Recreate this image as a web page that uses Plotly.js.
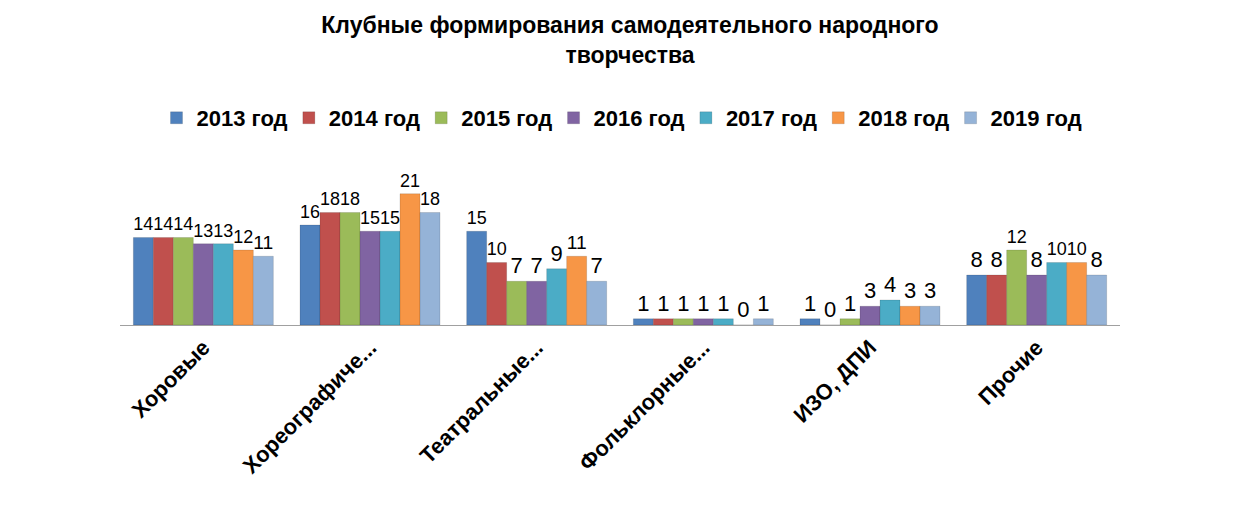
<!DOCTYPE html>
<html>
<head>
<meta charset="utf-8">
<script src="https://cdn.plot.ly/plotly-3.0.1.min.js"></script>
<style>body{margin:0;background:#fff}#chart{width:1260px;height:510px}</style>
</head>
<body>
<div id="chart"></div>
<script>
/* ── Data ──────────────────────────────────────────── */
const CATEGORIES = ['Хоровые', 'Хореографиче...', 'Театральные...', 'Фольклорные...', 'ИЗО, ДПИ', 'Прочие'];
const YEARS  = ['2013 год', '2014 год', '2015 год', '2016 год', '2017 год', '2018 год', '2019 год'];
const COLORS = ['#4F81BD', '#C0504D', '#9BBB59', '#8064A2', '#4BACC6', '#F79646', '#95B3D7'];

const v2013 = [14, 16, 15, 1, 1, 8];
const v2014 = [14, 18, 10, 1, 0, 8];
const v2015 = [14, 18, 7, 1, 1, 12];
const v2016 = [13, 15, 7, 1, 3, 8];
const v2017 = [13, 15, 9, 1, 4, 10];
const v2018 = [12, 21, 11, 0, 3, 10];
const v2019 = [11, 18, 7, 1, 3, 8];
const SERIES = [v2013, v2014, v2015, v2016, v2017, v2018, v2019];

/* ── Traces ────────────────────────────────────────── */
const traces = SERIES.map((vals, i) => ({
  x: CATEGORIES, y: vals,
  name: YEARS[i],
  type: 'bar',
  marker: { color: COLORS[i], line: { color: 'rgba(0,0,0,0.25)', width: 0.5 } },
  text: vals.map(String),
  textposition: 'outside',
  textfont: { size: 22, color: '#000', family: 'Liberation Sans, Arial' },
  cliponaxis: false
}));

const layout = {
  width: 1260, height: 510,
  paper_bgcolor: '#fff', plot_bgcolor: '#fff',
  font: { family: 'Liberation Sans, Arial', color: '#000' },
  title: {
    text: '<b>Клубные формирования самодеятельного народного<br>творчества</b>',
    font: { size: 23 }, x: 0.5, y: 0.935, yanchor: 'middle'
  },
  showlegend: true,
  legend: {
    orientation: 'h', x: 0.5, xanchor: 'center', y: 1.38, yanchor: 'middle',
    font: { size: 22 }, itemwidth: 30, traceorder: 'normal'
  },
  margin: { l: 120, r: 140, t: 175, b: 185 },
  barmode: 'group', bargap: 0.16, bargroupgap: 0,
  xaxis: {
    tickangle: -45, tickfont: { size: 22 },
    showline: true, linecolor: '#a0a0a0', ticks: '',
    tickprefix: '<b>', ticksuffix: '</b>'
  },
  yaxis: { range: [0, 24], visible: false, showgrid: false }
};

Plotly.newPlot('chart', traces, layout, { displayModeBar: false, staticPlot: true }).then(() => {
  // bold legend labels, as in the reference
  document.querySelectorAll('.legendtext').forEach(t => t.style.fontWeight = 'bold');
});
</script>
</body>
</html>
